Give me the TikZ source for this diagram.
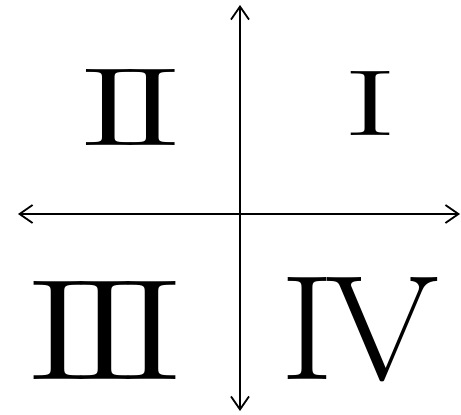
\documentclass[tikz,border=0pt]{standalone}
\usetikzlibrary{arrows.meta}
\tikzset{
  axis/.style={line width=1.8pt, {Straight Barb[length=13pt,width=18pt,line width=1.8pt]}-{Straight Barb[length=13pt,width=18pt,line width=1.8pt]}},
  numeral/.style={inner sep=0pt, outer sep=0pt, anchor=center}
}
\newcommand{\tightkern}{\kern-0.1em}
\begin{document}
\begin{tikzpicture}[x=1pt,y=-1pt]
  \useasboundingbox (0,0) rectangle (461,415);
  \coordinate (L) at (18,214);
  \coordinate (R) at (460,214);
  \coordinate (T) at (240,5);
  \coordinate (B) at (240,411);
  \draw[axis] (L) -- (R);
  \draw[axis] (T) -- (B);
  \node[numeral] (q1) at (370,103) {\resizebox{54pt}{64pt}{\fontsize{90}{90}\selectfont I}};
  \node[numeral] (q2) at (131,107) {\resizebox{106pt}{76pt}{\fontsize{110}{110}\selectfont I\tightkern I}};
  \node[numeral] (q3) at (105,330) {\resizebox{160pt}{98pt}{\fontsize{140}{140}\selectfont I\tightkern I\tightkern I}};
  \node[numeral] (q4) at (360,330) {\resizebox{158pt}{102pt}{\fontsize{140}{140}\selectfont I\kern-0.06em V}};
\end{tikzpicture}
\end{document}
